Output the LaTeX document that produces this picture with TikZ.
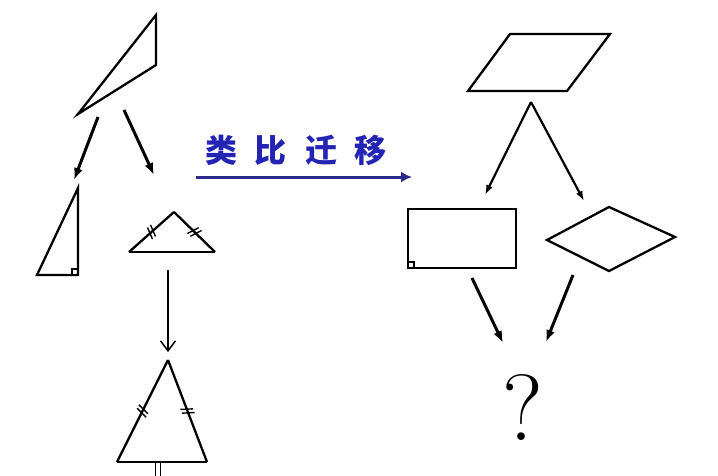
\documentclass[tikz,border=0pt]{standalone}
\usepackage{fontspec}
\newfontfamily\cjk{Noto Sans CJK SC}
\usetikzlibrary{arrows.meta,decorations.markings}
\definecolor{navy}{HTML}{2B2B8C}
\definecolor{txtblue}{HTML}{2424B4}
\tikzset{
  shape line/.style={line width=2.3pt, line join=miter, black},
  thin mark/.style={line width=1.3pt},
  blackarrow/.style={line width=3pt, -{Latex[length=12pt,width=9pt]}},
  openarrow/.style={line width=1.5pt, -{Straight Barb[length=10pt,width=15pt,line width=1.5pt]}},
  twoticks/.style={postaction={decorate}, decoration={markings,
     mark=at position 0.5 with {\draw[line width=1.4pt] (-4pt,-6pt)--(0pt,6pt); \draw[line width=1.4pt] (0pt,-6pt)--(4pt,6pt);}}},
}
\begin{document}
\begin{tikzpicture}[x=1pt,y=-1pt]
\fill[white] (0,0) rectangle (718,475);
\useasboundingbox (0,0) rectangle (718,475);

% left top triangle
\coordinate (t1a) at (156,15);
\coordinate (t1b) at (156,65);
\coordinate (t1c) at (78,114);
\draw[shape line] (t1a) -- (t1b) -- (t1c) -- cycle;

% arrows
\coordinate (a1s) at (98,117);
\coordinate (a1e) at (74,180);
\coordinate (a2s) at (124,110);
\coordinate (a2e) at (154,175);
\draw[blackarrow] (a1s) -- (a1e);
\draw[blackarrow] (a2s) -- (a2e);

% right triangle
\coordinate (rA) at (78,188);
\coordinate (rB) at (78,275);
\coordinate (rC) at (37,275);
\draw[shape line] (rA) -- (rB) -- (rC) -- cycle;
\draw[thin mark] (72,275) -- (72,269) -- (78,269);

% isosceles obtuse triangle
\coordinate (iA) at (174,212);
\coordinate (iL) at (129,252);
\coordinate (iR) at (215,252);
\draw[shape line] (iL) -- (iR);
\draw[shape line, twoticks] (iL) -- (iA);
\draw[shape line, twoticks] (iA) -- (iR);

% vertical arrow
\coordinate (vs) at (168,270);
\coordinate (ve) at (168,352);
\draw[openarrow] (vs) -- (ve);

% equilateral triangle
\coordinate (eA) at (168,360);
\coordinate (eL) at (117,462);
\coordinate (eR) at (207,462);
\draw[shape line] (eL) -- (eR);
\draw[shape line, twoticks] (eL) -- (eA);
\draw[shape line, twoticks] (eA) -- (eR);
\coordinate (d1) at (155.5,463);
\coordinate (d2) at (160.5,463);
\draw[line width=1.5pt] (d1) -- ++(0,13);
\draw[line width=1.5pt] (d2) -- ++(0,13);

% analogy label and arrow
\node[text=txtblue, font=\cjk\bfseries\fontsize{32}{32}\selectfont, inner sep=0pt] (lab) at (296,150)
  {类\hspace{18pt}比\hspace{18pt}迁\hspace{18pt}移};
\coordinate (bs) at (196,177);
\coordinate (be) at (412,177);
\draw[navy, line width=3pt, -{Latex[length=11pt,width=11pt]}] (bs) -- (be);

% parallelogram
\coordinate (p1) at (510,34);
\coordinate (p2) at (610,34);
\coordinate (p3) at (567,91);
\coordinate (p4) at (468,91);
\draw[shape line] (p1) -- (p2) -- (p3) -- (p4) -- cycle;

\coordinate (pa) at (531,102);
\coordinate (pl) at (485,195);
\coordinate (pr) at (584,201);
\draw[line width=2.2pt, -{Latex[length=10pt,width=7pt]}] (pa) -- (pl);
\draw[line width=2.2pt, -{Latex[length=10pt,width=7pt]}] (pa) -- (pr);

% rectangle
\draw[shape line] (408,209) rectangle (516,268);
\draw[thin mark] (408,262) -- (414,262) -- (414,268);

% rhombus
\draw[shape line] (547,240) -- (609,207) -- (675,237) -- (609,271) -- cycle;

% arrows to question mark
\coordinate (q1s) at (472,278);
\coordinate (q1e) at (503,343);
\coordinate (q2s) at (573,275);
\coordinate (q2e) at (546,342);
\draw[blackarrow] (q1s) -- (q1e);
\draw[blackarrow] (q2s) -- (q2e);

\node[font=\fontsize{94}{94}\selectfont, inner sep=0pt, anchor=base] (q) at (523,440) {?};
\end{tikzpicture}
\end{document}
